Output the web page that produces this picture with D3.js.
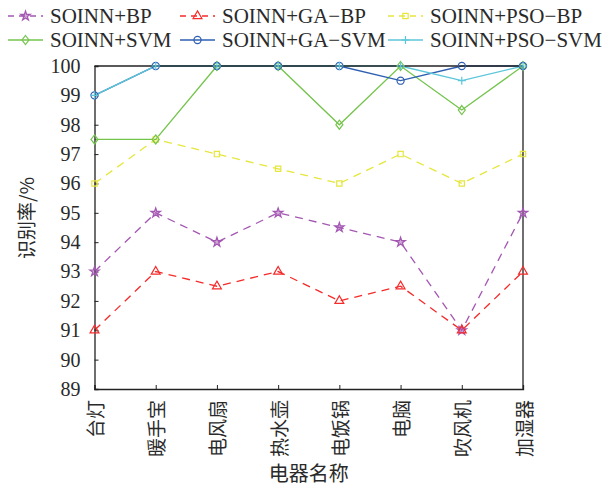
<!DOCTYPE html>
<html><head><meta charset="utf-8">
<script src="https://cdn.jsdelivr.net/npm/d3@7"></script>
<style>body{margin:0;background:#fff}svg{display:block}
.serif{font-family:"Liberation Serif","Times New Roman",Tinos,"DejaVu Serif",serif}
.cjk{font-family:"Noto Sans CJK SC","Noto Sans CJK JP",sans-serif}
</style>
</head><body>
<script>
const categories = ["台灯","暖手宝","电风扇","热水壶","电饭锅","电脑","吹风机","加湿器"];
const seriesNames = ["SOINN+BP","SOINN+GA−BP","SOINN+PSO−BP","SOINN+SVM","SOINN+GA−SVM","SOINN+PSO−SVM"];
const bp     = [93, 95, 94, 95, 94.5, 94, 91, 95];
const gaBp   = [91, 93, 92.5, 93, 92, 92.5, 91, 93];
const psoBp  = [96, 97.5, 97, 96.5, 96, 97, 96, 97];
const svm    = [97.5, 97.5, 100, 100, 98, 100, 98.5, 100];
const gaSvm  = [99, 100, 100, 100, 100, 99.5, 100, 100];
const psoSvm = [99, 100, 100, 100, 100, 100, 99.5, 100];
const yTicks = [89,90,91,92,93,94,95,96,97,98,99,100];

const W = 616, H = 490;
const pL = 94.5, pR = 523, pT = 66, pB = 389;

const styles = [
  {color:"#a457b2", dash:"8,6", marker:"star"},
  {color:"#f52a2a", dash:"8,6", marker:"triangle"},
  {color:"#e6e63c", dash:"8,6", marker:"square"},
  {color:"#74c44c", dash:null, marker:"diamond"},
  {color:"#2e5fb0", dash:null, marker:"circle"},
  {color:"#5cc6da", dash:null, marker:"plus"}
];
const allData = [bp, gaBp, psoBp, svm, gaSvm, psoSvm];

const svg = d3.select("body").append("svg").attr("width", W).attr("height", H);
const x = d3.scalePoint().domain(categories).range([pL, pR]);
const y = d3.scaleLinear().domain([89, 100]).range([pB, pT]);

function markerPath(type) {
  switch (type) {
    case "star": return d3.symbol(d3.symbolStar, 28)();
    case "triangle": return d3.symbol(d3.symbolTriangle, 34)();
    case "square": return d3.symbol(d3.symbolSquare, 28)();
    case "diamond": return "M0,-4.5L3.5,0L0,4.5L-3.5,0Z";
    case "circle": return d3.symbol(d3.symbolCircle, 40)();
    case "plus": return "M-4,0L4,0M0,-4L0,4";
  }
}
function drawMarker(g, type, color, cx, cy) {
  const p = g.append("path").attr("d", markerPath(type))
    .attr("transform", `translate(${cx},${cy})`)
    .attr("stroke", color).attr("stroke-width", 1.2);
  if (type === "star") p.attr("fill", color).attr("fill-opacity", 0.5);
  else p.attr("fill", "none");
}

const line = d3.line().x((d, i) => x(categories[i])).y(d => y(d));
const linesG = svg.append("g");
allData.forEach((data, si) => {
  const st = styles[si];
  linesG.append("path").datum(data).attr("d", line)
    .attr("fill", "none").attr("stroke", st.color).attr("stroke-width", 1.3)
    .attr("stroke-dasharray", st.dash);
});

const yAxis = d3.axisLeft(y).tickValues(yTicks).tickSize(-4).tickPadding(14).tickFormat(d3.format("d"));
const yg = svg.append("g").attr("transform", `translate(${pL},0)`).call(yAxis);
yg.attr("font-family", null).attr("font-size", null);
yg.select(".domain").attr("stroke", "#222").attr("stroke-width", 1.3);
yg.selectAll(".tick line").attr("stroke", "#222");
yg.selectAll(".tick text").attr("class", "serif").style("font-size", "20px").attr("fill", "#2a2a2a");

const xAxis = d3.axisBottom(x).tickSize(-4).tickFormat("");
const xg = svg.append("g").attr("transform", `translate(0,${pB})`).call(xAxis);
xg.select(".domain").attr("stroke", "#222").attr("stroke-width", 1.3);
xg.selectAll(".tick line").attr("stroke", "#222");

svg.append("line").attr("x1", pL).attr("x2", pR).attr("y1", pT).attr("y2", pT).attr("stroke", "#222").attr("stroke-width", 1.3);
svg.append("line").attr("x1", pR).attr("x2", pR).attr("y1", pT).attr("y2", pB).attr("stroke", "#222").attr("stroke-width", 1.3);

const markG = svg.append("g");
allData.forEach((data, si) => {
  const st = styles[si];
  data.forEach((v, i) => drawMarker(markG, st.marker, st.color, x(categories[i]), y(v)));
});

svg.append("g").selectAll("text").data(categories).join("text")
  .attr("class", "cjk")
  .attr("transform", d => `translate(${x(d)},400) rotate(-90)`)
  .attr("text-anchor", "end").attr("dominant-baseline", "central")
  .style("font-size", "19px").attr("fill", "#2a2a2a")
  .text(d => d);

svg.append("text").attr("class", "cjk").attr("x", (pL + pR) / 2).attr("y", 481)
  .attr("text-anchor", "middle").style("font-size", "20px").attr("fill", "#2a2a2a")
  .text("电器名称");
svg.append("text").attr("class", "cjk").attr("transform", "translate(25,218) rotate(-90)")
  .attr("text-anchor", "middle").attr("dominant-baseline", "central")
  .style("font-size", "19px").attr("fill", "#2a2a2a")
  .text("识别率/%");

const legPos = [[8,16],[180,16],[388,16],[8,40],[180,40],[388,40]];
const legG = svg.append("g");
seriesNames.forEach((name, si) => {
  const st = styles[si];
  const [lx, ly] = legPos[si];
  legG.append("line").attr("x1", lx).attr("x2", lx + 35).attr("y1", ly).attr("y2", ly)
    .attr("stroke", st.color).attr("stroke-width", 1.3).attr("stroke-dasharray", st.dash ? "6,5" : null);
  drawMarker(legG, st.marker, st.color, lx + 17.5, ly);
  legG.append("text").attr("class", "serif").attr("x", lx + 42).attr("y", ly).attr("dy", "0.35em")
    .style("font-size", "21px").attr("fill", "#2a2a2a").text(name);
});
</script>
</body></html>
